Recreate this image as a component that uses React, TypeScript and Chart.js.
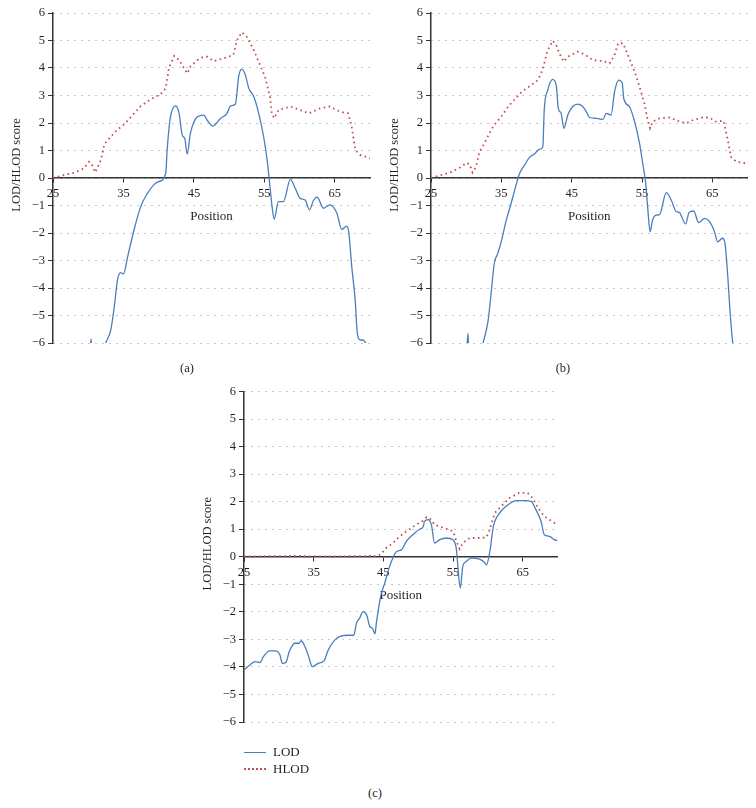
import React, { useEffect, useRef } from 'react';
import { Chart, registerables } from 'chart.js';
Chart.register(...registerables);

const FONT = '"Liberation Serif", "Times New Roman", serif';
const TEXT = '#231f20';
const LOD_COLOR = '#4a7ebb';
const HLOD_COLOR = '#c0504d';

const xTickValues = [25, 35, 45, 55, 65];
const xTickLabels = ['25', '35', '45', '55', '65'];
const yTickValues = [-6, -5, -4, -3, -2, -1, 0, 1, 2, 3, 4, 5, 6];
const yTickLabels = ['−6', '−5', '−4', '−3', '−2', '−1', '0', '1', '2', '3', '4', '5', '6'];
const seriesNames = ['LOD', 'HLOD'];
const captions = ['(a)', '(b)', '(c)'];

// Panel (a)
const lodPosA = [30.0, 30.25, 30.4, 30.55, 31.5, 32.5, 33.2, 33.7, 34.15, 34.6, 35.0, 35.6, 36.5, 37.45, 38.4, 39.3, 40.0, 41.0, 41.2, 41.6, 42.4, 42.9, 43.35, 43.7, 44.05, 44.5, 45.5, 46.4, 46.9, 47.7, 48.8, 49.7, 50.2, 50.9, 51.35, 51.8, 52.3, 52.8, 53.5, 54.2, 54.9, 55.4, 55.8, 56.1, 56.4, 57.0, 57.7, 58.7, 59.4, 60.1, 60.8, 61.4, 62.0, 62.5, 63.4, 64.3, 65.3, 66.0, 66.7, 67.0, 67.4, 67.9, 68.2, 68.6, 69.0, 69.4, 70.0];
const lodA = [-7, -6.4, -5.85, -6.4, -7, -6.0, -5.53, -4.68, -3.71, -3.44, -3.49, -2.86, -1.89, -1.04, -0.56, -0.25, -0.13, 0.17, 1.0, 2.1, 2.62, 2.35, 1.56, 1.44, 0.87, 1.62, 2.23, 2.29, 2.1, 1.89, 2.17, 2.35, 2.62, 2.69, 3.68, 3.96, 3.75, 3.26, 2.96, 2.35, 1.5, 0.65, -0.32, -1.04, -1.5, -0.86, -0.86, -0.05, -0.38, -0.74, -0.8, -1.16, -0.8, -0.7, -1.1, -0.98, -1.28, -1.87, -1.75, -2.0, -3.2, -4.44, -5.65, -5.89, -5.89, -6.0, -6.3];
const hlodPosA = [25, 26.6, 28.0, 29.4, 30.1, 30.5, 31.0, 31.8, 32.3, 33.2, 34.1, 35.1, 36.3, 37.4, 38.9, 40.3, 41.0, 41.45, 42.2, 42.9, 44.05, 44.5, 45.5, 46.4, 46.9, 47.8, 49.2, 50.6, 51.1, 51.8, 52.5, 53.5, 54.4, 55.1, 55.8, 56.05, 56.4, 57.0, 58.7, 60.1, 61.3, 62.9, 64.3, 65.7, 66.9, 67.4, 67.9, 68.6, 70.0];
const hlodA = [0, 0.11, 0.19, 0.35, 0.59, 0.5, 0.2, 0.65, 1.24, 1.5, 1.75, 1.95, 2.29, 2.6, 2.87, 3.05, 3.26, 3.99, 4.44, 4.29, 3.8, 4.05, 4.29, 4.41, 4.41, 4.25, 4.35, 4.47, 5.0, 5.3, 5.14, 4.65, 4.1, 3.68, 2.96, 2.35, 2.17, 2.47, 2.6, 2.47, 2.35, 2.53, 2.6, 2.41, 2.35, 1.87, 1.02, 0.84, 0.72];

// Panel (b)
const lodPosB = [29.9, 30.1, 30.25, 30.4, 31.5, 32.4, 33.1, 33.55, 34.0, 34.5, 35.05, 35.7, 36.4, 37.1, 37.6, 38.3, 39.0, 39.7, 40.4, 40.9, 41.1, 41.6, 42.3, 42.8, 43.1, 43.5, 43.9, 44.45, 45.15, 45.85, 46.5, 47.0, 47.55, 48.5, 49.45, 49.9, 50.6, 51.1, 51.7, 52.2, 52.4, 53.2, 53.95, 54.65, 55.1, 55.5, 55.8, 56.15, 56.5, 57.0, 57.5, 58.45, 59.15, 59.85, 60.3, 61.2, 61.7, 62.35, 63.05, 63.9, 64.6, 65.3, 65.75, 66.45, 66.8, 67.2, 67.5, 67.9, 68.5];
const lodB = [-7, -6.3, -5.65, -6.4, -7, -6.0, -5.22, -4.19, -3.1, -2.74, -2.25, -1.53, -0.92, -0.25, 0.17, 0.47, 0.75, 0.87, 1.04, 1.14, 2.47, 3.2, 3.59, 3.38, 2.53, 2.35, 1.81, 2.29, 2.6, 2.69, 2.62, 2.45, 2.2, 2.17, 2.13, 2.35, 2.29, 3.14, 3.56, 3.44, 2.9, 2.6, 2.05, 1.26, 0.53, -0.13, -1.04, -1.95, -1.53, -1.35, -1.33, -0.53, -0.8, -1.22, -1.25, -1.67, -1.25, -1.2, -1.62, -1.47, -1.59, -1.95, -2.32, -2.19, -2.38, -3.59, -4.8, -6.0, -7.2];
const hlodPosB = [25, 26.5, 27.9, 29.3, 30.0, 30.5, 30.9, 31.4, 31.9, 32.6, 33.55, 34.0, 35.0, 35.9, 36.9, 38.05, 39.2, 40.2, 40.65, 41.1, 41.6, 42.3, 42.8, 43.25, 43.9, 44.45, 45.85, 46.8, 48.0, 49.45, 50.4, 51.1, 51.6, 52.3, 53.0, 53.95, 54.65, 55.35, 55.8, 56.15, 56.5, 57.5, 58.9, 60.1, 61.3, 62.2, 63.6, 64.6, 65.5, 66.6, 67.2, 67.65, 68.4, 69.8, 70.0];
const hlodB = [0, 0.11, 0.22, 0.4, 0.55, 0.5, 0.2, 0.4, 0.96, 1.26, 1.75, 1.93, 2.23, 2.57, 2.86, 3.17, 3.37, 3.56, 3.8, 4.17, 4.65, 4.99, 4.84, 4.53, 4.23, 4.41, 4.59, 4.5, 4.29, 4.25, 4.17, 4.47, 4.9, 4.9, 4.47, 3.87, 3.32, 2.71, 2.1, 1.81, 2.05, 2.17, 2.2, 2.08, 1.99, 2.1, 2.2, 2.2, 2.05, 2.08, 1.38, 0.77, 0.59, 0.53, 0.52];

// Panel (c)
const lodPosC = [25.0, 25.85, 26.6, 27.3, 27.8, 28.7, 29.45, 30.15, 30.5, 31.0, 31.5, 32.3, 32.9, 33.2, 33.75, 34.2, 34.8, 35.65, 36.5, 37.1, 38.05, 39.0, 39.95, 40.75, 41.15, 41.6, 42.1, 42.6, 43.05, 43.45, 43.8, 44.0, 44.3, 44.7, 45.2, 45.9, 46.9, 47.6, 48.3, 49.25, 50.2, 50.7, 50.9, 51.4, 51.9, 52.35, 53.1, 54.0, 55.0, 55.5, 55.7, 56.05, 56.4, 56.9, 57.6, 58.8, 59.5, 59.8, 60.25, 60.8, 61.7, 62.9, 64.1, 65.3, 66.2, 66.9, 67.65, 68.1, 68.85, 69.55, 70.0];
const lodC = [-4.11, -3.93, -3.81, -3.84, -3.62, -3.42, -3.42, -3.56, -3.87, -3.84, -3.44, -3.14, -3.14, -3.05, -3.26, -3.56, -3.99, -3.87, -3.77, -3.38, -3.02, -2.87, -2.85, -2.85, -2.41, -2.23, -1.99, -2.11, -2.53, -2.6, -2.8, -2.41, -1.9, -1.35, -0.96, -0.35, 0.19, 0.25, 0.56, 0.8, 1.0, 1.08, 1.28, 1.35, 1.16, 0.5, 0.62, 0.68, 0.62, 0.25, -0.35, -1.14, -0.35, -0.17, -0.05, -0.09, -0.2, -0.29, 0.13, 1.1, 1.59, 1.89, 2.04, 2.04, 2.01, 1.71, 1.28, 0.8, 0.74, 0.62, 0.58];
const hlodPosC = [25, 33, 34, 42, 43, 44, 44.7, 45.4, 46.4, 47.35, 48.55, 49.7, 50.7, 51.2, 51.75, 52.35, 53.3, 54.3, 55.0, 55.5, 55.95, 56.4, 57.4, 58.8, 59.8, 60.25, 61.0, 61.9, 63.1, 64.5, 65.7, 66.45, 67.2, 68.1, 69.55, 70.0];
const hlodC = [0.01, 0.03, 0.01, 0.02, 0.03, 0.02, 0.1, 0.32, 0.5, 0.74, 0.96, 1.16, 1.31, 1.44, 1.37, 1.16, 1.08, 1.0, 0.92, 0.56, 0.28, 0.5, 0.68, 0.68, 0.7, 0.98, 1.59, 1.83, 2.13, 2.32, 2.32, 2.13, 1.77, 1.47, 1.23, 1.18];

const yTitlePlugin = {
  id: 'yTitle',
  afterDraw(chart: any, _args: any, opts: any) {
    const { ctx, chartArea } = chart;
    ctx.save();
    ctx.translate(chartArea.left + opts.dx, (chartArea.top + chartArea.bottom) / 2 + opts.dy);
    ctx.rotate(-Math.PI / 2);
    ctx.font = `12.5px ${FONT}`;
    ctx.fillStyle = TEXT;
    ctx.textAlign = 'center';
    ctx.textBaseline = 'middle';
    ctx.fillText(opts.text, 0, 0);
    ctx.restore();
  },
};

const zip = (xs: number[], ys: number[]) => xs.map((x, i) => ({ x, y: ys[i] }));

type PanelProps = {
  lodX: number[]; lodY: number[]; hlodX: number[]; hlodY: number[];
  left: number; top: number; width: number; height: number;
  axisW: number; padTop: number; padRight: number; padBottom: number;
};

function Panel(p: PanelProps) {
  const ref = useRef<HTMLCanvasElement | null>(null);
  useEffect(() => {
    if (!ref.current) return;
    const chart = new Chart(ref.current, {
      type: 'line',
      data: {
        datasets: [
          {
            label: seriesNames[0],
            data: zip(p.lodX, p.lodY),
            borderColor: LOD_COLOR,
            borderWidth: 1.3,
            pointRadius: 0,
            cubicInterpolationMode: 'monotone',
            order: 1,
          },
          {
            label: seriesNames[1],
            data: zip(p.hlodX, p.hlodY),
            borderColor: HLOD_COLOR,
            borderWidth: 1.8,
            borderDash: [1.6, 3.4],
            pointRadius: 0,
            tension: 0,
            order: 0,
          },
        ],
      },
      options: {
        responsive: false,
        animation: false,
        events: [],
        layout: { padding: { top: p.padTop, right: p.padRight, bottom: p.padBottom, left: 0 } },
        plugins: {
          legend: { display: false },
          tooltip: { enabled: false },
          yTitle: { text: 'LOD/HLOD score', dx: -36, dy: -13 },
        } as any,
        scales: {
          x: {
            type: 'linear',
            axis: 'x',
            min: 25,
            max: 70,
            position: { y: 0 } as any,
            afterBuildTicks: (s: any) => { s.ticks = xTickValues.map((v) => ({ value: v })); },
            ticks: {
              callback: (v: any) => xTickLabels[xTickValues.indexOf(Number(v))] ?? '',
              font: { family: FONT, size: 12.5 },
              color: TEXT,
              padding: 4,
              maxRotation: 0,
            },
            grid: { drawOnChartArea: false, tickLength: 4, tickColor: '#333', tickWidth: 1 },
            border: { color: '#333', width: 1.5 },
            title: { display: true, text: 'Position', font: { family: FONT, size: 13 }, color: TEXT, padding: { top: 4, bottom: 0 } },
          },
          y: {
            type: 'linear',
            min: -6,
            max: 6,
            afterBuildTicks: (s: any) => { s.ticks = yTickValues.map((v) => ({ value: v })); },
            afterFit: (s: any) => { s.width = p.axisW; },
            ticks: {
              callback: (v: any) => yTickLabels[yTickValues.indexOf(Number(v))] ?? '',
              font: { family: FONT, size: 12.5 },
              color: TEXT,
              padding: 3,
            },
            grid: { color: '#8f8f8f', lineWidth: 1, tickLength: 5, tickColor: '#333', tickWidth: 1 },
            border: { color: '#333', width: 1.5, dash: [1, 6] },
          },
        },
      } as any,
      plugins: [yTitlePlugin as any],
    });
    return () => chart.destroy();
  }, []);
  return (
    <canvas
      ref={ref}
      width={p.width}
      height={p.height}
      style={{ position: 'absolute', left: p.left, top: p.top, width: p.width, height: p.height }}
    />
  );
}

const textStyle: React.CSSProperties = {
  position: 'absolute',
  fontFamily: FONT,
  color: TEXT,
  lineHeight: '16px',
  whiteSpace: 'nowrap',
};

export default function App() {
  return (
    <div style={{ position: 'absolute', left: 0, top: 0, width: 756, height: 808, background: '#fff' }}>
      <Panel lodX={lodPosA} lodY={lodA} hlodX={hlodPosA} hlodY={hlodA}
        left={0} top={0} width={378} height={380} axisW={53} padTop={13} padRight={8} padBottom={37} />
      <Panel lodX={lodPosB} lodY={lodB} hlodX={hlodPosB} hlodY={hlodB}
        left={378} top={0} width={378} height={380} axisW={53} padTop={13} padRight={8.5} padBottom={37} />
      <Panel lodX={lodPosC} lodY={lodC} hlodX={hlodPosC} hlodY={hlodC}
        left={190} top={380} width={378} height={380} axisW={54} padTop={11.5} padRight={10.5} padBottom={38} />

      <div style={{ ...textStyle, fontSize: 12.5, left: 187, top: 368, transform: 'translate(-50%, -50%)' }}>{captions[0]}</div>
      <div style={{ ...textStyle, fontSize: 12.5, left: 563, top: 368, transform: 'translate(-50%, -50%)' }}>{captions[1]}</div>
      <div style={{ ...textStyle, fontSize: 12.5, left: 375, top: 793, transform: 'translate(-50%, -50%)' }}>{captions[2]}</div>

      <div style={{ position: 'absolute', left: 244, top: 752, width: 22, borderTop: `1.3px solid ${LOD_COLOR}` }} />
      <div style={{ ...textStyle, fontSize: 13, left: 273, top: 752, transform: 'translateY(-50%)' }}>{seriesNames[0]}</div>
      <div style={{ position: 'absolute', left: 244, top: 768, width: 22, borderTop: `2px dotted ${HLOD_COLOR}` }} />
      <div style={{ ...textStyle, fontSize: 13, left: 273, top: 769, transform: 'translateY(-50%)' }}>{seriesNames[1]}</div>
    </div>
  );
}
